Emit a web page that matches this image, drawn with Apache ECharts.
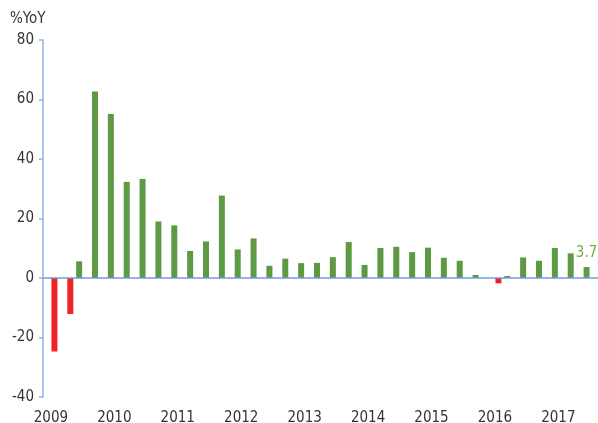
<!DOCTYPE html>
<html>
<head>
<meta charset="utf-8">
<script src="https://cdn.jsdelivr.net/npm/echarts@6/dist/echarts.min.js"></script>
<style>
  html, body { margin: 0; padding: 0; background: #fff; }
  #chart { width: 598px; height: 423px; }
</style>
</head>
<body>
<div id="chart"></div>
<script>
// quarterly, 2009 Q1 .. 2017 Q3
const years = ['2009', '2010', '2011', '2012', '2013', '2014', '2015', '2016', '2017'];
const quarters = [];
years.forEach(y => {
  for (let q = 1; q <= 4; q++) {
    if (y === '2017' && q === 4) break;
    quarters.push(y + ' Q' + q);
  }
});

const yoyValues = [
  -24.7, -12.1, 5.6, 62.7, 55.1, 32.3, 33.3, 19.0, 17.7, 9.1,
  12.3, 27.7, 9.6, 13.3, 4.1, 6.5, 5.0, 5.1, 7.0, 12.1,
  4.4, 10.1, 10.5, 8.7, 10.2, 6.8, 5.8, 1.0, -1.8, 0.7,
  6.9, 5.8, 10.1, 8.3, 3.7
];
const yTicks = [-40, -20, 0, 20, 40, 60, 80];

const font = '"Liberation Sans Narrow", "DejaVu Sans Condensed", sans-serif';
const last = yoyValues.length - 1;

const positive = yoyValues.map((v, i) => {
  if (v < 0) return null;
  if (i === last) {
    return {
      value: v,
      label: {
        show: true, position: 'top', distance: 6,
        color: '#6fb04a', fontSize: 15, fontFamily: font
      }
    };
  }
  return v;
});
const negative = yoyValues.map(v => (v < 0 ? v : null));

const chart = echarts.init(document.getElementById('chart'));
chart.setOption({
  animation: false,
  grid: { left: 43, right: 0, top: 40, bottom: 26, outerBoundsMode: 'none' },
  graphic: [{
    type: 'text', left: 10, top: 12,
    style: { text: '%YoY', fill: '#333', font: '15px ' + font }
  }],
  xAxis: {
    type: 'category',
    data: quarters,
    axisLine: { show: false },
    axisTick: { show: false },
    axisLabel: {
      interval: 3,
      formatter: v => v.slice(0, 4),
      color: '#333', fontSize: 15, fontFamily: font, margin: 14
    }
  },
  yAxis: {
    type: 'value',
    min: yTicks[0],
    max: yTicks[yTicks.length - 1],
    interval: 20,
    axisLine: { show: true, lineStyle: { color: '#8db3e2', width: 1.5 } },
    axisTick: { show: true, length: 4, lineStyle: { color: '#8db3e2', width: 1.5 } },
    splitLine: { show: false },
    axisLabel: { color: '#333', fontSize: 15, fontFamily: font, margin: 9 }
  },
  series: [
    {
      name: 'positive', type: 'bar', data: positive,
      barWidth: 6, barGap: '17%',
      itemStyle: { color: '#5e9a44' },
      markLine: {
        silent: true, symbol: 'none', label: { show: false },
        lineStyle: { color: '#6d9fd6', type: 'solid', width: 1.5 },
        data: [{ yAxis: 0 }]
      }
    },
    {
      name: 'negative', type: 'bar', data: negative,
      barWidth: 6,
      itemStyle: { color: '#ee2227' }
    }
  ]
});
</script>
</body>
</html>
